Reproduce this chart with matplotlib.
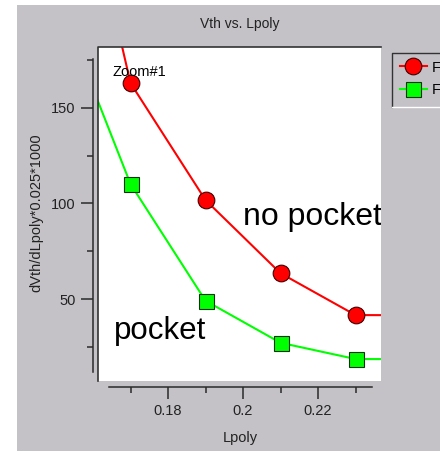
import matplotlib
matplotlib.use('Agg')
import matplotlib.pyplot as plt
import matplotlib.patches as mpatches
import matplotlib.lines as mlines
from matplotlib.ticker import MultipleLocator, FormatStrFormatter

plt.rcParams['font.family'] = ['Liberation Sans', 'DejaVu Sans']

# Lpoly sweep and dVth/dLpoly*0.025*1000
lpoly = [0.15, 0.17, 0.19, 0.21, 0.23, 0.25]
no_pocket = [333.0, 163.0, 101.8, 63.5, 41.6, 41.5]
pocket = [210.0, 110.2, 49.1, 27.1, 18.6, 18.5]
series_labels = ['F', 'F']   # only the "F" is visible in the original

W, H = 448, 451
GRAY = '#c4c2c6'
DARK = '#2a2a2a'

fig = plt.figure(figsize=(W / 100, H / 100), dpi=100, facecolor='white')

# gray panel behind everything
fig.add_artist(mpatches.Rectangle((17 / W, 0), 423 / W, 446 / H, transform=fig.transFigure,
                                  facecolor=GRAY, edgecolor='none', zorder=-10))

ax = fig.add_axes([98 / W, 1 - 381 / H, 283 / W, 334 / H])
ax.set_facecolor('white')

l1, = ax.plot(lpoly, no_pocket, color='#ff0000', lw=1.5, marker='o', ms=12,
              mfc='#ff0000', mec='#400000', mew=0.8)
l2, = ax.plot(lpoly, pocket, color='#00ff00', lw=1.5, marker='s', ms=10.8,
              mfc='#00ff00', mec='#103010', mew=0.8)

ax.set_xlim(0.16133, 0.2368)
ax.set_ylim(7.1, 181.9)

# sunken border of the plot area (dark top/left)
ax.plot([0, 0, 1], [0, 1, 1], transform=ax.transAxes, color='#333333', lw=1.2,
        clip_on=False, zorder=5)

ax.spines['top'].set_visible(False)
ax.spines['right'].set_visible(False)
ax.spines['left'].set_position(('outward', 3.6))
ax.spines['bottom'].set_position(('outward', 4.3))
ax.spines['left'].set_bounds(11.8, 175.6)
ax.spines['bottom'].set_bounds(0.1643, 0.2344)
for s in ['left', 'bottom']:
    ax.spines[s].set_color(DARK)
    ax.spines[s].set_linewidth(1.1)

ax.yaxis.set_major_locator(MultipleLocator(50))
ax.yaxis.set_minor_locator(MultipleLocator(25))
ax.xaxis.set_major_locator(MultipleLocator(0.02))
ax.xaxis.set_minor_locator(MultipleLocator(0.01))
ax.xaxis.set_major_formatter(FormatStrFormatter('%g'))
ax.yaxis.set_major_formatter(FormatStrFormatter('%g'))
ax.tick_params(which='major', direction='out', length=8.6, width=1.1, color=DARK,
               pad=4, labelsize=10.5, labelcolor='#222222')
ax.tick_params(which='minor', direction='out', length=4.3, width=1.1, color=DARK)

ax.set_xlabel('Lpoly', fontsize=10.5, color='#222222')
ax.xaxis.set_label_coords(0.502, -0.15)
ax.set_ylabel('dVth/dLpoly*0.025*1000', fontsize=10.5, color='#222222')
ax.yaxis.set_label_coords(-0.194, 0.503)

ax.text(0.16533, 168.8, 'Zoom#1', fontsize=10.5, ha='left', va='center', zorder=6)
ax.text(0.2, 92.7, 'no pocket', fontsize=23, ha='left', va='center', clip_on=True)
ax.text(0.1655, 33.3, 'pocket', fontsize=22.5, ha='left', va='center')

fig.text(240 / W, 1 - 24 / H, 'Vth vs. Lpoly', ha='center', va='center', fontsize=10,
         color='#222222')

# legend, sunken box at the right
fig.legend([l1, l2], series_labels, loc='upper left', bbox_to_anchor=(392 / W, 1 - 53 / H),
           frameon=False, fontsize=10.5, handlelength=1.9, borderpad=0.52, borderaxespad=0,
           handletextpad=0.3, labelspacing=0.6)
fig.add_artist(mlines.Line2D([392 / W, 392 / W, 440 / W], [1 - 107 / H, 1 - 53 / H, 1 - 53 / H],
                             transform=fig.transFigure, color='#333333', lw=1.0, zorder=6))
fig.add_artist(mlines.Line2D([392 / W, 440 / W], [1 - 107 / H, 1 - 107 / H],
                             transform=fig.transFigure, color='white', lw=1.0, zorder=6))

# panel is cut off at the right edge
fig.add_artist(mpatches.Rectangle((440 / W, 0), 8 / W, 1, transform=fig.transFigure,
                                  facecolor='white', edgecolor='none', zorder=20))

fig.savefig('out.png', dpi=100, facecolor='white')
